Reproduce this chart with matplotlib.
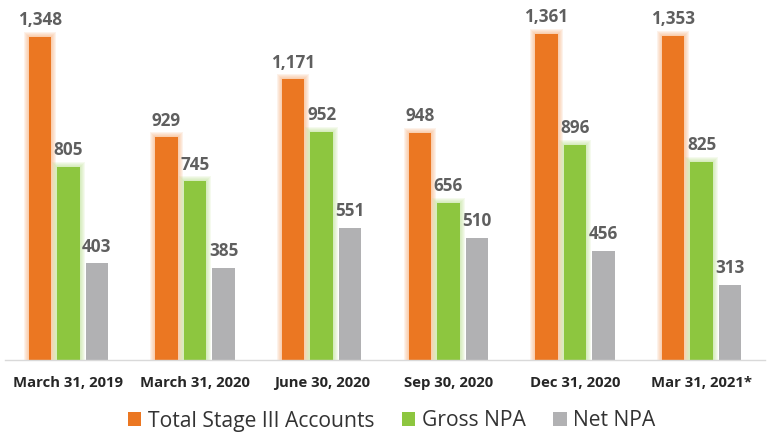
import matplotlib
matplotlib.use("Agg")
import matplotlib.pyplot as plt
from matplotlib.patches import Patch
import numpy as np

plt.rcParams['font.family'] = ['Open Sans', 'DejaVu Sans']

categories = ["March 31, 2019", "March 31, 2020", "June 30, 2020",
              "Sep 30, 2020", "Dec 31, 2020", "Mar 31, 2021*"]
series_names = ["Total Stage III Accounts", "Gross NPA", "Net NPA"]
total_stage3 = [1348, 929, 1171, 948, 1361, 1353]
gross_npa = [805, 745, 952, 656, 896, 825]
net_npa = [403, 385, 551, 510, 456, 313]

colors = ["#EB7722", "#8DC63F", "#B1B1B3"]
glow_colors = ["#F6A86E", "#B9DE8A", None]

fig = plt.figure(figsize=(7.69, 4.34), dpi=100)
ax = fig.add_axes([5/769, 1-360/434, 760/769, 355/434])
ax.set_xlim(-0.5, 5.5)
ax.set_ylim(0, 1481)

x = np.arange(len(categories))
width = 0.178
offset = 0.225
all_series = [total_stage3, gross_npa, net_npa]

px_x = 1/126.67   # one pixel in x data units
px_y = 1481/355   # one pixel in y data units

for i, (vals, c, gc) in enumerate(zip(all_series, colors, glow_colors)):
    xs = x + (i - 1) * offset
    if gc is not None:
        for k in range(5, 0, -1):
            ax.bar(xs, np.array(vals) + k * px_y, width=width + 2 * k * px_x,
                   color=gc, alpha=0.14, linewidth=0, zorder=1)
    ax.bar(xs, vals, width=width, color=c, linewidth=0, zorder=2)
    for xi, v in zip(xs, vals):
        ax.annotate(f"{v:,}", (xi, v), xytext=(0, 8.5), textcoords='offset points',
                    ha='center', va='baseline', fontsize=12.3, fontweight='bold',
                    color='#5F5F5F', zorder=3)

for s in ['top', 'left', 'right']:
    ax.spines[s].set_visible(False)
ax.spines['bottom'].set_color('#D9D9D9')
ax.spines['bottom'].set_linewidth(1)
ax.set_yticks([])
ax.set_xticks(x)
ax.set_xticklabels(categories, fontsize=10.7, fontweight='bold', color='#262626')
ax.tick_params(axis='x', length=0, pad=11.5)

handles = [Patch(facecolor=c, edgecolor='none') for c in colors]
fig.legend(handles, series_names, loc='center', bbox_to_anchor=(391.5/769, 1-421/434),
           ncol=3, frameon=False, fontsize=15.2, handlelength=0.65, handleheight=0.65,
           handletextpad=0.3, columnspacing=1.3, borderpad=0, borderaxespad=0,
           labelcolor='#333333')

fig.savefig("out.png", dpi=100)
